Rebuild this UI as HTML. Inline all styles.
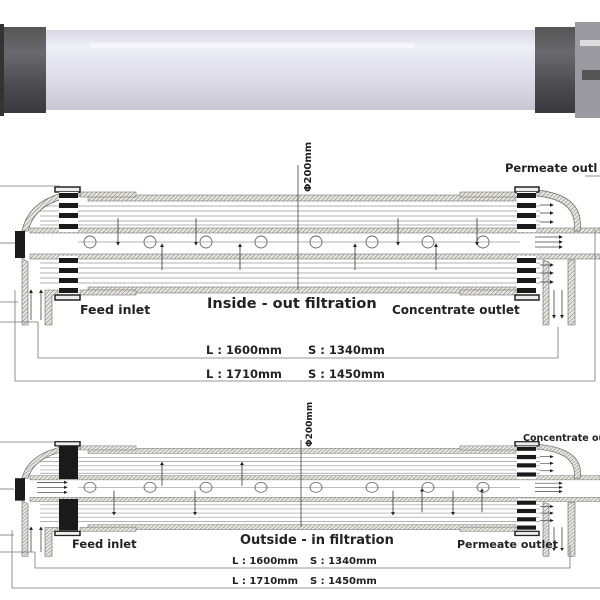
<!DOCTYPE html>
<html><head><meta charset="utf-8"><style>
html,body{margin:0;padding:0;background:#fff;}
svg{display:block;}
text{font-family:"DejaVu Sans","Liberation Sans",sans-serif;font-weight:bold;fill:#222;}
</style></head><body>
<svg width="600" height="600" viewBox="0 0 600 600" xmlns="http://www.w3.org/2000/svg">
<defs>
<pattern id="h" width="3" height="3" patternUnits="userSpaceOnUse" patternTransform="rotate(45)">
<rect width="3" height="3" fill="#e6e6de"/><line x1="0" y1="0" x2="0" y2="3" stroke="#777" stroke-width="1"/>
</pattern>
<linearGradient id="tube" x1="0" y1="0" x2="0" y2="1">
<stop offset="0" stop-color="#d8d6e2"/><stop offset="0.2" stop-color="#eeeef6"/><stop offset="0.5" stop-color="#e2e1ec"/><stop offset="1" stop-color="#c9c7d3"/>
</linearGradient>
<linearGradient id="cap" x1="0" y1="0" x2="0" y2="1">
<stop offset="0" stop-color="#555"/><stop offset="0.3" stop-color="#6a6a6e"/><stop offset="0.7" stop-color="#4a4a4e"/><stop offset="1" stop-color="#3a3a3e"/>
</linearGradient>
<marker id="a" markerWidth="5" markerHeight="5" refX="4" refY="2.5" orient="auto"><path d="M0,0 L5,2.5 L0,5z" fill="#222"/></marker>
<g id="dia">
 <!-- outer shell -->
 <rect x="88" y="195" width="428" height="6" fill="url(#h)" stroke="#777" stroke-width="0.6"/>
 <rect x="88" y="287" width="428" height="6" fill="url(#h)" stroke="#777" stroke-width="0.6"/>
 <rect x="80" y="192" width="56" height="5" fill="url(#h)" stroke="#777" stroke-width="0.6"/>
 <rect x="80" y="290" width="56" height="5" fill="url(#h)" stroke="#777" stroke-width="0.6"/>
 <rect x="460" y="192" width="57" height="5" fill="url(#h)" stroke="#777" stroke-width="0.6"/>
 <rect x="460" y="290" width="57" height="5" fill="url(#h)" stroke="#777" stroke-width="0.6"/>
 <!-- center tube walls -->
 <rect x="30" y="228" width="570" height="5" fill="url(#h)" stroke="#777" stroke-width="0.6"/>
 <rect x="30" y="254" width="570" height="5" fill="url(#h)" stroke="#777" stroke-width="0.6"/>
 <line x1="78" y1="242" x2="520" y2="242" stroke="#999" stroke-width="0.7"/>
 <!-- fibers -->
 <g stroke="#999" stroke-width="0.8">
  <line x1="40" y1="206" x2="540" y2="206"/><line x1="40" y1="211" x2="540" y2="211"/><line x1="40" y1="216" x2="540" y2="216"/><line x1="40" y1="221" x2="540" y2="221"/><line x1="40" y1="225" x2="540" y2="225"/>
  <line x1="40" y1="263" x2="540" y2="263"/><line x1="40" y1="268" x2="540" y2="268"/><line x1="40" y1="273" x2="540" y2="273"/><line x1="40" y1="278" x2="540" y2="278"/><line x1="40" y1="283" x2="540" y2="283"/>
 </g>
 <!-- circles -->
 <g fill="none" stroke="#666" stroke-width="0.9">
  <circle cx="90" cy="242" r="6"/><circle cx="150" cy="242" r="6"/><circle cx="206" cy="242" r="6"/><circle cx="261" cy="242" r="6"/><circle cx="316" cy="242" r="6"/><circle cx="372" cy="242" r="6"/><circle cx="428" cy="242" r="6"/><circle cx="483" cy="242" r="6"/>
 </g>
 <!-- left head -->
 <path d="M80,190 Q30,195 22,231 L28,231 Q36,200 80,196z" fill="url(#h)" stroke="#666" stroke-width="0.7"/>
 <rect x="15" y="231" width="10" height="27" fill="#1a1a1a"/>
 <path d="M22,258 L22,325 L28,325 L28,262z" fill="url(#h)" stroke="#666" stroke-width="0.6"/>
 <path d="M45,290 L45,325 L52,325 L52,295 L58,295 L58,290z" fill="url(#h)" stroke="#666" stroke-width="0.6"/>
 <rect x="55" y="187" width="25" height="5" fill="#eee" stroke="#222" stroke-width="1.5"/>
 <rect x="55" y="295" width="25" height="5" fill="#eee" stroke="#222" stroke-width="1.5"/>
 <!-- right head -->
 <path d="M537,190 Q585,195 580,231 L574,231 Q578,200 537,196z" fill="url(#h)" stroke="#666" stroke-width="0.7"/>
 <path d="M543,260 L543,325 L549,325 L549,262z" fill="url(#h)" stroke="#666" stroke-width="0.6"/>
 <path d="M568,260 L568,325 L575,325 L575,260z" fill="url(#h)" stroke="#666" stroke-width="0.6"/>
 <rect x="515" y="187" width="24" height="5" fill="#eee" stroke="#222" stroke-width="1.5"/>
 <rect x="515" y="295" width="24" height="5" fill="#eee" stroke="#222" stroke-width="1.5"/>
 <!-- right flow arrows -->
 <g stroke="#444" stroke-width="0.8" marker-end="url(#a)">
  <line x1="540" y1="205" x2="553" y2="205"/><line x1="540" y1="213" x2="553" y2="213"/><line x1="540" y1="222" x2="553" y2="222"/>
  <line x1="535" y1="237" x2="562" y2="237"/><line x1="535" y1="242" x2="562" y2="242"/><line x1="535" y1="247" x2="562" y2="247"/>
  <line x1="540" y1="265" x2="553" y2="265"/><line x1="540" y1="273" x2="553" y2="273"/><line x1="540" y1="282" x2="553" y2="282"/>
  <line x1="554" y1="290" x2="554" y2="318"/><line x1="562" y1="290" x2="562" y2="318"/>
  <line x1="31" y1="320" x2="31" y2="290"/><line x1="41" y1="320" x2="41" y2="290"/>
 </g>
</g>
<g id="blk1">
 <rect x="59" y="192" width="19" height="40" fill="#fff"/>
 <rect x="59" y="193" width="19" height="5" fill="#1a1a1a"/><rect x="59" y="203" width="19" height="5" fill="#1a1a1a"/><rect x="59" y="213" width="19" height="5" fill="#1a1a1a"/><rect x="59" y="224" width="19" height="5" fill="#1a1a1a"/>
 <rect x="59" y="256" width="19" height="38" fill="#fff"/>
 <rect x="59" y="258" width="19" height="5" fill="#1a1a1a"/><rect x="59" y="268" width="19" height="5" fill="#1a1a1a"/><rect x="59" y="278" width="19" height="5" fill="#1a1a1a"/><rect x="59" y="288" width="19" height="5" fill="#1a1a1a"/>
</g>
</defs>

<!-- photo -->
<rect x="40" y="30" width="500" height="80" fill="url(#tube)"/>
<rect x="90" y="43" width="325" height="5" fill="#f6f6fb" opacity="0.8"/>
<rect x="0" y="27" width="46" height="86" fill="url(#cap)"/>
<rect x="0" y="24" width="4" height="92" fill="#333"/>
<rect x="535" y="27" width="42" height="86" fill="url(#cap)"/>
<rect x="575" y="22" width="25" height="96" fill="#9a9aa0"/>
<rect x="580" y="40" width="20" height="6" fill="#ddd"/><rect x="582" y="70" width="18" height="10" fill="#555"/>

<!-- diagram 1 -->
<use href="#dia"/>
<use href="#blk1"/>
<use href="#blk1" transform="translate(458,0)"/>
<g stroke="#333" stroke-width="0.8" marker-end="url(#a)">
 <line x1="118" y1="218" x2="118" y2="245"/><line x1="196" y1="218" x2="196" y2="245"/><line x1="398" y1="218" x2="398" y2="245"/><line x1="477" y1="218" x2="477" y2="245"/>
 <line x1="162" y1="270" x2="162" y2="244"/><line x1="240" y1="270" x2="240" y2="244"/><line x1="355" y1="270" x2="355" y2="244"/><line x1="436" y1="270" x2="436" y2="244"/>
</g>
<line x1="298" y1="165" x2="298" y2="290" stroke="#444" stroke-width="0.8"/>
<text transform="translate(311,192) rotate(-90)" font-size="10">Φ200mm</text>
<g stroke="#777" stroke-width="0.8" fill="none">
 <polyline points="38,322 38,358 558,358 558,327"/>
 <polyline points="15,290 15,381 595,381 595,230"/>
 <line x1="0" y1="186" x2="60" y2="186"/><line x1="0" y1="243" x2="15" y2="243"/><line x1="0" y1="302" x2="18" y2="302"/><line x1="0" y1="322" x2="38" y2="322"/>
 <line x1="585" y1="176" x2="600" y2="176"/>
</g>
<text x="80" y="314" font-size="12.5">Feed inlet</text>
<text x="207" y="308" font-size="14.5">Inside - out filtration</text>
<text x="392" y="314" font-size="12">Concentrate outlet</text>
<text x="505" y="172" font-size="11.5">Permeate outl</text>
<text x="206" y="354" font-size="11.5">L : 1600mm</text>
<text x="308" y="354" font-size="11.5">S : 1340mm</text>
<text x="206" y="378" font-size="11.5">L : 1710mm</text>
<text x="308" y="378" font-size="11.5">S : 1450mm</text>

<!-- diagram 2 -->
<g transform="translate(0,450) scale(1,0.83) translate(0,-197)">
 <use href="#dia"/>
 <rect x="59" y="192" width="19" height="40" fill="#1a1a1a"/>
 <rect x="59" y="256" width="19" height="38" fill="#1a1a1a"/>
 <use href="#blk1" transform="translate(458,0)"/>
 <g stroke="#333" stroke-width="0.8" marker-end="url(#a)">
  <line x1="114" y1="246" x2="114" y2="275"/><line x1="195" y1="246" x2="195" y2="275"/><line x1="393" y1="246" x2="393" y2="275"/><line x1="453" y1="246" x2="453" y2="275"/>
  <line x1="162" y1="240" x2="162" y2="212"/><line x1="242" y1="240" x2="242" y2="212"/><line x1="422" y1="272" x2="422" y2="244"/><line x1="482" y1="272" x2="482" y2="244"/>
  <line x1="37" y1="242" x2="67" y2="242"/><line x1="37" y1="236" x2="67" y2="236"/><line x1="37" y1="248" x2="67" y2="248"/>
 </g>
</g>
<line x1="301" y1="440" x2="301" y2="527" stroke="#444" stroke-width="0.8"/>
<text transform="translate(312,447) rotate(-90)" font-size="9">Φ200mm</text>
<g stroke="#777" stroke-width="0.8" fill="none">
 <polyline points="35,552 35,568 570,568 570,545"/>
 <polyline points="12,530 12,588 600,588"/>
 <line x1="0" y1="442" x2="55" y2="442"/><line x1="0" y1="489" x2="14" y2="489"/><line x1="0" y1="535" x2="14" y2="535"/><line x1="0" y1="552" x2="35" y2="552"/>
</g>
<text x="72" y="548" font-size="11.5">Feed inlet</text>
<text x="240" y="544" font-size="13">Outside - in filtration</text>
<text x="457" y="548" font-size="11">Permeate outlet</text>
<text x="523" y="441" font-size="9.5">Concentrate ou</text>
<text x="232" y="564" font-size="10">L : 1600mm</text>
<text x="310" y="564" font-size="10">S : 1340mm</text>
<text x="232" y="584" font-size="10">L : 1710mm</text>
<text x="310" y="584" font-size="10">S : 1450mm</text>
</svg>
</body></html>
